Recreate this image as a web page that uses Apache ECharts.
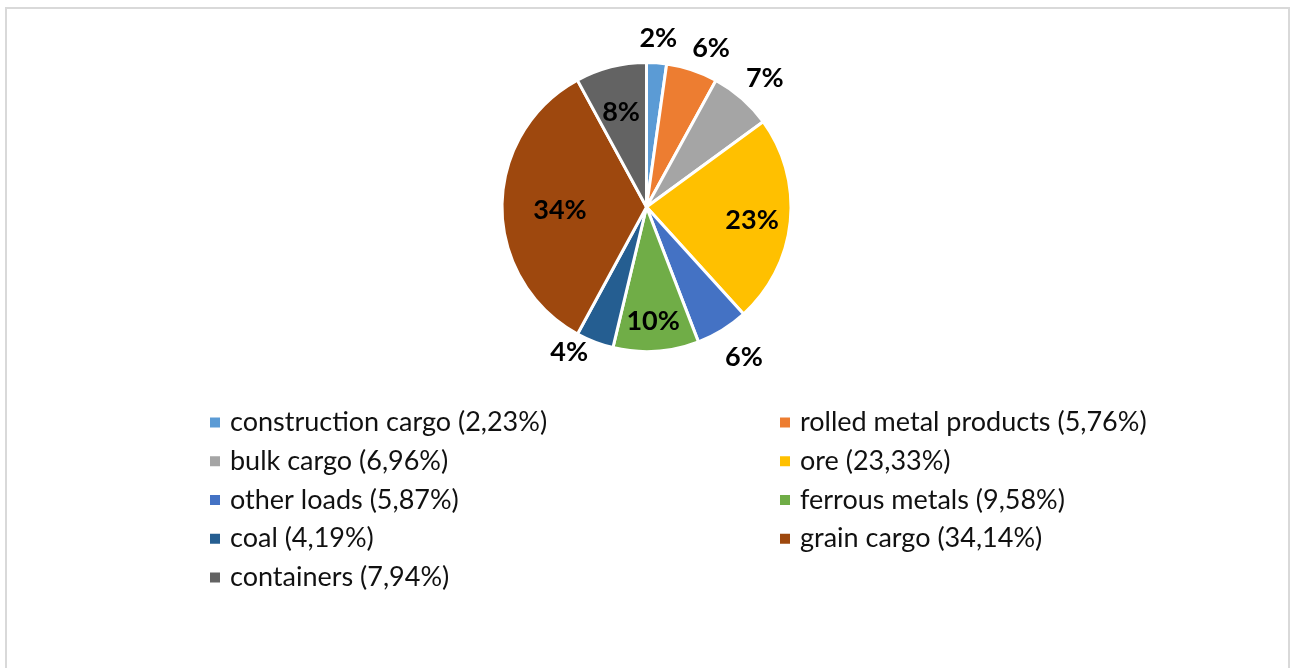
<!DOCTYPE html>
<html>
<head>
<meta charset="utf-8">
<title>Cargo structure</title>
<script src="https://cdn.jsdelivr.net/npm/echarts@6/dist/echarts.min.js"></script>
<style>
  html, body { margin: 0; padding: 0; background: #ffffff; }
  #chart { width: 1291px; height: 668px; }
</style>
</head>
<body>
<div id="chart"></div>
<script>
// Cargo categories, in the order the slices run clockwise from 12 o'clock
const categories = [
  'construction cargo', 'rolled metal products', 'bulk cargo', 'ore',
  'other loads', 'ferrous metals', 'coal', 'grain cargo', 'containers'
];
// Share of each cargo type, %
const shares = [2.23, 5.76, 6.96, 23.33, 5.87, 9.58, 4.19, 34.14, 7.94];
// Slice colours
const colors = ['#5B9BD5', '#ED7D31', '#A5A5A5', '#FFC000', '#4472C4',
                '#70AD47', '#255E91', '#9E480E', '#636363'];

// Legend columns (row-major order split into two columns)
const legendLeft = ['construction cargo', 'bulk cargo', 'other loads', 'coal', 'containers'];
const legendRight = ['rolled metal products', 'ore', 'ferrous metals', 'grain cargo'];

// Pie geometry
const CENTER = [646.5, 207];
const RADIUS = 144.5;
// Label placement: distance from centre as a fraction of the radius,
// plus a small angular nudge (degrees) for the best-fit placement
const labelDist = [1.172, 1.187, 1.212, 0.736, 1.238, 0.79, 1.138, 0.599, 0.681];
const labelNudge = [0, 3.7, 1.2, 1.2, -1.4, 0.5, 7.1, -2.0, -0.7];

const total = shares.reduce((a, b) => a + b, 0);
const midAngles = [];
let acc = 0;
shares.forEach(v => {
  midAngles.push((acc + v / 2) / total * 360);
  acc += v;
});

const fmtShare = v => v.toFixed(2).replace('.', ',');
const shareOf = {};
categories.forEach((c, i) => { shareOf[c] = shares[i]; });

const FONT = 'Lato, "Open Sans", sans-serif';
const TEXT = '#111111';

const legendBase = {
  orient: 'vertical',
  top: 398,
  itemGap: 0,
  itemWidth: 12,
  itemHeight: 12,
  icon: 'rect',
  selectedMode: false,
  formatter: name => name + ' (' + fmtShare(shareOf[name]) + '%)',
  textStyle: {
    fontFamily: FONT,
    fontSize: 27,
    color: TEXT,
    lineHeight: 38.75,
    padding: [0, 0, 0, 4]
  }
};

const chart = echarts.init(document.getElementById('chart'), null, { renderer: 'canvas' });
chart.setOption({
  animation: false,
  color: colors,
  graphic: [{
    type: 'rect',
    shape: { x: 6, y: 8, width: 1283, height: 700 },
    style: { fill: 'none', stroke: '#d9d9d9', lineWidth: 2 },
    silent: true
  }],
  legend: [
    Object.assign({}, legendBase, { left: 203, data: legendLeft }),
    Object.assign({}, legendBase, { left: 773, data: legendRight })
  ],
  series: [{
    type: 'pie',
    center: CENTER,
    radius: RADIUS,
    startAngle: 90,
    clockwise: true,
    avoidLabelOverlap: false,
    itemStyle: { borderColor: '#ffffff', borderWidth: 3 },
    label: {
      show: true,
      position: 'inside',
      formatter: p => Math.round(p.value / total * 100) + '%',
      fontFamily: FONT,
      fontSize: 27,
      fontWeight: 'bold',
      color: '#000000'
    },
    labelLine: { show: false },
    labelLayout: params => {
      const i = params.dataIndex;
      const a = (midAngles[i] + labelNudge[i]) * Math.PI / 180;
      const d = labelDist[i] * RADIUS;
      return {
        x: CENTER[0] + d * Math.sin(a),
        y: CENTER[1] - d * Math.cos(a),
        align: 'center',
        verticalAlign: 'middle'
      };
    },
    emphasis: { disabled: true },
    data: categories.map((c, i) => ({ name: c, value: shares[i] }))
  }]
});
</script>
</body>
</html>
